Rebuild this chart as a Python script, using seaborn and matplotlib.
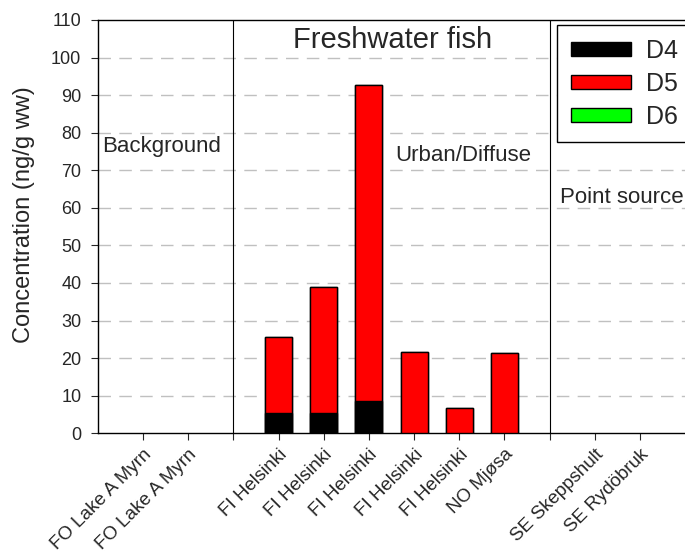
import numpy as np
import pandas as pd
import matplotlib
matplotlib.use("Agg")
import matplotlib.pyplot as plt
import seaborn as sns
from matplotlib.patches import Patch

# ==========================================
# Data
# ==========================================

sites = ["FO Lake A Myrn", "FO Lake A Myrn", "",
         "FI Helsinki", "FI Helsinki", "FI Helsinki", "FI Helsinki", "FI Helsinki",
         "NO Mjøsa", "", "SE Skeppshult", "SE Rydöbruk"]
d4 = [0, 0, 0, 5.5, 5.5, 8.7, 0, 0, 0, 0, 0, 0]
d5 = [0, 0, 0, 20.0, 33.5, 84.1, 21.5, 6.6, 21.3, 0, 0, 0]
d6 = [0, 0, 0, 0, 0, 0, 0, 0, 0, 0, 0, 0]

series_names = ["D4", "D5", "D6"]
series_colors = ["#000000", "#ff0000", "#00ff00"]

slots = [f"s{i}" for i in range(len(sites))]
df = pd.DataFrame({"slot": slots, "D4": d4, "D5": d5, "D6": d6})
df["c4"] = df["D4"]
df["c5"] = df["D4"] + df["D5"]
df["c6"] = df["c5"] + df["D6"]

# zero-height segments are not drawn
for col in ["c4", "c5", "c6"]:
    df[col] = df[col].where(df[col] > 0)

# ==========================================
# Plot
# ==========================================

sns.set_style("ticks")
plt.rcParams["font.family"] = ["Liberation Sans", "DejaVu Sans"]

fig = plt.figure(figsize=(6.85, 5.54), dpi=100)
ax = fig.add_axes([0.143, 0.218, 0.857, 0.746])

for col, color in zip(["c6", "c5", "c4"], series_colors[::-1]):
    sns.barplot(data=df, x="slot", y=col, order=slots, color=color,
                width=0.6, edgecolor="black", linewidth=1.0,
                saturation=1, ax=ax, zorder=3)

ax.set_xlim(-1, 12)
ax.set_ylim(0, 110)
ax.set_yticks(np.arange(0, 111, 10))
ax.tick_params(axis="y", labelsize=13, direction="out", length=5, pad=7)
ax.tick_params(axis="x", direction="out", length=5, pad=4)
ax.set_xticks(range(len(sites)))
ax.set_xticklabels(sites, rotation=45, ha="right", rotation_mode="anchor",
                   fontsize=13.5)
ax.set_xlabel("")
ax.set_ylabel("Concentration (ng/g ww)", fontsize=17)
ax.yaxis.set_label_coords(-0.107, 0.53)

for y in range(10, 110, 10):
    ax.axhline(y, color="#c0c0c0", lw=1.0, ls=(0, (9, 6)), zorder=1)

for x in [2, 9]:
    ax.axvline(x, color="black", lw=0.8, zorder=2)

for side in ["left", "bottom", "top"]:
    ax.spines[side].set_color("black")
    ax.spines[side].set_linewidth(1.0)
ax.spines["right"].set_visible(False)

ax.text(5.53, 104.7, "Freshwater fish", fontsize=21, ha="center", va="center")
ax.text(-0.91, 76.2, "Background", fontsize=16, ha="left", va="center")
ax.text(5.58, 74.0, "Urban/Diffuse", fontsize=16, ha="left", va="center")
ax.text(9.23, 62.8, "Point source", fontsize=16, ha="left", va="center")

handles = [Patch(facecolor=c, edgecolor="black", label=n)
           for n, c in zip(series_names, series_colors)]
leg = ax.legend(handles=handles, loc="upper left", bbox_to_anchor=(0.782, 0.988),
                borderaxespad=0, fontsize=18, frameon=True, fancybox=False,
                handlelength=2.4, handleheight=0.5, handletextpad=0.6,
                borderpad=0.55, labelspacing=0.36)
leg.get_frame().set_edgecolor("black")
leg.get_frame().set_linewidth(1.0)
leg.get_frame().set_alpha(1)

fig.savefig("out.png", dpi=100)
